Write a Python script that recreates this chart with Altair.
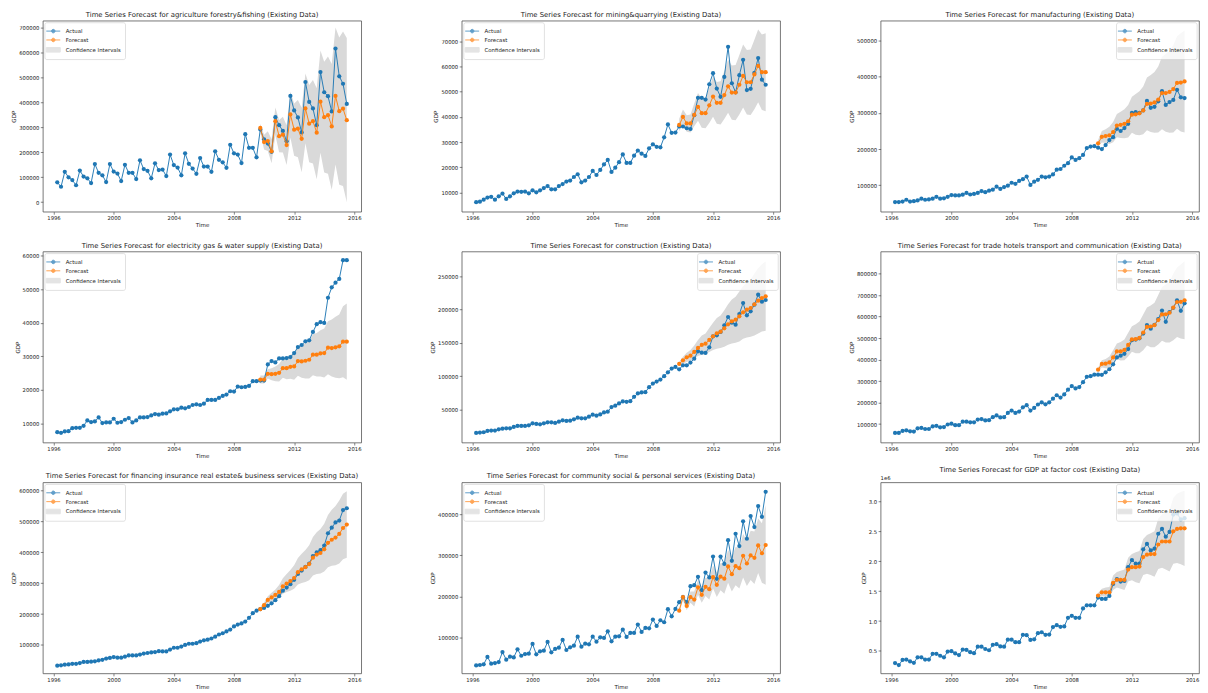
import altair as alt
import pandas as pd

# ---------------- data (values in thousands) ----------------
FIRST_QUARTER = 1996.25           # decimal year of the first observation (quarterly)
X_DOMAIN = [1995.29, 2016.46]
X_TICKS = [1996, 2000, 2004, 2008, 2012, 2016]

TITLES = [
    "Time Series Forecast for agriculture forestry&fishing (Existing Data)",
    "Time Series Forecast for mining&quarrying (Existing Data)",
    "Time Series Forecast for manufacturing (Existing Data)",
    "Time Series Forecast for electricity gas & water supply (Existing Data)",
    "Time Series Forecast for construction (Existing Data)",
    "Time Series Forecast for trade hotels transport and communication (Existing Data)",
    "Time Series Forecast for financing insurance real estate& business services (Existing Data)",
    "Time Series Forecast for community social & personal services (Existing Data)",
    "Time Series Forecast for GDP at factor cost (Existing Data)",
]

ACT_AGRI = [80, 62, 122,
            100, 89, 68, 127, 103, 96, 77, 153, 118, 108, 81, 153, 123, 115, 85, 150,
            118, 118, 93, 168, 133, 126, 96, 156, 129, 131, 105, 191, 149, 139, 108, 196,
            154, 135, 114, 177, 143, 143, 122, 204, 170, 160, 138, 230, 196, 191, 157, 273,
            218, 218, 180, 292, 252, 235, 202, 341, 309, 286, 244, 426, 368, 340, 280, 482,
            402, 376, 309, 522, 441, 425, 364, 616, 505, 475, 394]
FC_AGRI = [298, 241, 245, 204, 325, 265, 271, 229, 352, 291, 295, 254, 376, 315, 325, 279,
           403, 341, 349, 304, 426, 365, 375, 329]
UP_AGRI = [316, 271, 285, 252, 380, 330, 343, 309, 444, 396, 410, 379, 516, 470, 490, 457,
           608, 563, 584, 554, 701, 660, 685, 658]
LO_AGRI = [280, 211, 205, 156, 270, 200, 199, 149, 260, 186, 180, 120, 236, 160, 155, 92,
           198, 119, 114, 50, 151, 70, 65, 0]

ACT_MINE = [6.1, 6.3, 7.1, 7.9, 8.2, 7.1, 8.4, 9.5, 7.4, 8.4, 9.6, 10.3,
            10.2, 10.3, 9.6, 10.8, 10.0, 10.8, 11.7, 12.5, 11.2, 11.2, 12.5, 13.3,
            14.3, 14.7, 16.1, 17.2, 14.0, 14.7, 16.1, 18.5, 16.9, 18.9, 21.1, 22.9,
            18.1, 19.8, 22.0, 25.1, 21.7, 21.7, 24.6, 26.6, 25.4, 24.5, 27.5, 29.1,
            28.1, 27.9, 31.9, 37.0, 33.7, 33.8,
            36.2, 36.2, 35.5, 35.2, 40.7, 47.6, 47.6, 46.9, 53.0, 57.4, 51.3, 48.0,
            55.9, 67.9, 53.4, 49.8, 56.6, 62.7, 50.7, 51.2, 57.5, 63.4, 54.8, 52.8]
FC_MINE = [36.8, 40.0, 37.4, 37.4, 40.8, 44.0, 41.5, 41.5, 44.6, 48.1, 45.6, 45.6,
           48.7, 52.2, 49.7, 49.7, 52.8, 56.3, 53.8, 53.8, 56.9, 60.3, 57.8, 57.8]
UP_MINE = [39.3, 43.0, 40.7, 41.0, 45.3, 49.5, 47.3, 47.5, 51.6, 56.1, 53.9, 54.2,
           58.2, 62.7, 60.5, 60.7, 64.6, 68.8, 66.6, 66.8, 70.7, 74.8, 72.8, 73.3]
LO_MINE = [34.3, 37.0, 34.1, 33.8, 36.3, 38.5, 35.7, 35.5, 37.6, 40.1, 37.3, 37.0,
           39.2, 41.7, 38.9, 38.7, 41.0, 43.8, 41.0, 40.8, 43.1, 45.8, 42.8, 42.3]

ACT_MANU = [53.5, 53.5, 55, 60, 55, 56, 58, 63, 60, 61, 63, 68,
            63, 64, 68, 73, 72, 72, 74, 79, 74.5, 76, 79, 84, 81, 85, 88, 96,
            90, 95, 99, 107, 104, 112, 117, 124, 101, 110, 115, 124, 122, 124, 130, 143,
            145, 154, 161, 177, 170, 175, 184, 203, 207, 208,
            204, 200, 211, 225, 233, 256, 250, 258, 270, 300, 302, 300,
            307, 333, 314, 317, 332, 360, 322, 330, 336, 364, 343, 341]
FC_MANU = [216, 234, 236, 238, 247, 265, 267, 270, 277, 295, 296, 299,
           307, 325, 326, 329, 337, 355, 355, 358, 366, 383, 384, 387]
UP_MANU = [225, 250, 255, 262, 275, 297, 303, 310, 322, 345, 352, 360,
           373, 398, 405, 413, 428, 455, 463, 472, 487, 512, 520, 528]
LO_MANU = [207, 218, 217, 214, 219, 233, 231, 230, 232, 245, 240, 238,
           241, 252, 247, 245, 246, 255, 248, 245, 246, 256, 249, 246]

ACT_ELEC = [7.4, 7.2, 7.6, 7.7, 8.6, 8.7, 8.7, 9.3, 10.9, 10.4, 10.6, 11.8,
            10.1, 10.3, 10.3, 11.4, 10.2, 10.4, 11.1, 11.6, 10.3, 10.9, 11.8, 11.8,
            11.9, 12.4, 12.8, 12.6, 12.9, 13.0, 13.6, 14.2, 14.2, 14.7, 14.5, 14.9,
            15.5, 15.7, 15.5, 15.9, 17.0, 17.0, 17.0, 17.6, 18.2, 18.6, 19.6, 19.5,
            21.0, 20.8, 20.9, 21.2, 22.6, 22.6,
            22.8, 22.8, 27.6, 28.6, 28.2, 29.4, 29.4, 29.5, 29.8, 31.0, 32.8, 33.4,
            34.5, 34.8, 37.3, 39.6, 40.2, 40.0, 47.5, 50.6, 52.0, 53.1, 58.7, 58.7]
FC_ELEC = [23.1, 23.1, 24.8, 24.7, 24.8, 25.1, 26.5, 26.5, 26.9, 27.0, 28.6, 28.5,
           28.7, 29.0, 30.5, 30.5, 30.9, 31.0, 32.6, 32.5, 32.7, 33.0, 34.4, 34.4]
UP_ELEC = [24.3, 24.3, 26.2, 26.5, 27.0, 27.7, 29.4, 29.8, 30.5, 31.0, 33.0, 33.4,
           34.0, 34.6, 36.6, 37.0, 37.8, 38.3, 40.5, 41.0, 41.8, 42.5, 45.0, 45.8]
LO_ELEC = [21.9, 21.9, 23.4, 22.9, 22.6, 22.5, 23.6, 23.2, 23.3, 23.0, 24.2, 23.6,
           23.4, 23.4, 24.4, 24.0, 24.0, 23.7, 24.7, 24.0, 23.6, 23.5, 23.8, 23.0]

ACT_CONS = [14.7, 15.2, 15.7, 17.7, 18.2, 18.2, 20.1, 21.1, 21.6, 21.6, 23.6, 25.1,
            25.1, 25.1, 26.1, 29.1, 28.1, 27.6, 29.1, 30.6, 30.6, 29.6, 31.6, 33.6,
            32.6, 33.1, 35.1, 37.6, 36.6, 36.6, 39.1, 42.0, 40.5, 42.5, 45.5, 46.5,
            53.5, 55.5, 59.0, 62.0, 61.4, 62.4, 68.9, 73.9, 75.4, 75.9, 83.3, 88.8,
            91.8, 94.8, 99.8, 105.7, 111.2, 113.7,
            110.2, 116.2, 116.2, 120.2, 126.2, 137.2, 135.2, 134.7, 143.2, 159.7, 161.2, 166.2,
            176.2, 188.7, 180.2, 177.2, 193.2, 209.7, 191.2, 197.2, 207.2, 222.2, 211.7, 214.2]
FC_CONS = [118.2, 123.7, 128.2, 130.7, 136.2, 142.2, 146.7, 148.7, 154.2, 159.7, 164.2, 166.7,
           171.7, 177.7, 182.2, 184.7, 189.7, 195.7, 199.7, 202.2, 207.7, 213.2, 217.2, 219.7]
UP_CONS = [121, 129, 135, 139, 146, 154, 161, 164, 172, 180, 187, 191,
           199, 208, 215, 219, 227, 235, 241, 245, 254, 262, 268, 272]
LO_CONS = [115, 118, 121, 123, 126, 130, 132, 133, 136, 139, 141, 142,
           144, 147, 149, 150, 152, 156, 158, 159, 161, 164, 167, 168]

ACT_TRAD = [58.5, 58.5, 68, 71, 66, 65, 80, 82, 77, 77, 89, 92,
            85, 86, 98, 102, 95, 95, 111, 111, 108, 108, 121, 123,
            117, 118, 132, 140, 131, 132, 152, 163, 152, 158, 178, 188,
            163, 175, 191, 201, 192, 201, 218, 234, 223, 238, 260, 277,
            266, 272, 295, 320, 323, 330,
            330, 329, 341, 355, 378, 410, 418, 427, 449, 490, 493, 499,
            521, 561, 544, 562, 588, 628, 576, 621, 641, 676, 627, 662]
FC_TRAD = [353, 380, 381, 387, 410, 438, 438, 445, 468, 494, 495, 501,
           526, 552, 554, 560, 584, 610, 611, 618, 642, 668, 669, 676]
UP_TRAD = [362, 397, 403, 414, 444, 475, 482, 494, 525, 555, 565, 577,
           610, 642, 652, 665, 700, 738, 750, 762, 800, 828, 842, 858]
LO_TRAD = [344, 363, 360, 360, 378, 402, 396, 397, 414, 436, 430, 430,
           444, 465, 458, 457, 470, 488, 480, 479, 490, 505, 498, 495]

ACT_FIN = [33, 34, 36, 37, 39, 39, 41.5, 45, 45, 46, 47, 50,
           52, 56, 58, 61, 59, 59, 62, 66, 66, 66, 69, 72,
           74, 76, 77, 80, 79, 79, 85, 91, 91, 95, 100, 104,
           104, 106, 111, 115, 117, 121, 127, 134, 138, 144, 150, 160,
           166, 170, 176, 188, 203, 211,
           216, 220, 227, 235, 245, 258, 276, 286, 297, 311, 330, 341,
           353, 364, 388, 400, 407, 422, 462, 480, 497, 503, 537, 543]
FC_FIN = [216, 229, 246, 254, 262, 272, 290, 299, 307, 317, 336, 345,
          352, 362, 383, 393, 398, 410, 431, 441, 448, 460, 479, 490]
UP_FIN = [222, 238, 258, 269, 280, 294, 316, 330, 343, 358, 382, 396,
          408, 423, 450, 465, 476, 493, 521, 538, 550, 568, 590, 598]
LO_FIN = [210, 220, 234, 240, 246, 252, 266, 272, 276, 282, 296, 301,
          304, 310, 325, 330, 332, 338, 352, 357, 358, 364, 378, 383]

ACT_COMM = [31.5, 32.4, 34, 52, 35.6, 37.2, 39.7, 64, 45.4, 52.7, 51, 70.7,
            55, 59, 60, 83.7, 58.4, 65.8, 67.4, 88.6, 63.3, 71.5, 74.7, 93.5,
            69, 75.5, 79.6, 101.6, 77.2, 84.5, 82.9, 101.6, 89.4, 100, 98.4, 114.7,
            90.2, 101.6, 102.4, 118.7, 100.8, 110.6, 110.6, 131, 113, 122.8, 122, 143.2,
            127.7, 141.6, 136.7, 168.5, 151.3, 169.3,
            185.6, 197.8, 185.6, 224.7, 227, 247.5, 215, 258, 246, 297, 242.6, 297,
            279, 337, 286.6, 352.6, 322.5, 382.8, 340.4, 395.8, 369, 420, 394, 455]
FC_COMM = [165, 198, 176.6, 197.8, 192, 222, 203.5, 223, 217.4, 246.7, 228, 248,
           243, 272.8, 254, 273.6, 268.7, 298.9, 280, 299.7, 294, 324, 305, 325]
UP_COMM = [171, 206, 187, 212, 212, 240, 223, 246, 243, 275, 258, 281,
           280, 313, 297, 320, 318, 352, 336, 360, 358, 390, 378, 423]
LO_COMM = [159, 190, 166, 184, 175, 204, 184, 201, 192, 219, 198, 215,
           206, 233, 212, 227, 219, 246, 225, 240, 230, 257, 233, 228]

ACT_GDP = [296, 263, 349, 355, 323, 301, 392, 392, 355, 355, 452, 452,
           419, 392, 489, 495, 457, 430, 522, 516, 478, 462, 570, 570,
           532, 511, 602, 613, 575, 570, 688, 688, 645, 645, 769, 763,
           683, 694, 796, 812, 769, 774, 898, 930, 903, 909, 1054, 1086,
           1054, 1054, 1210, 1263, 1263, 1263,
           1392, 1370, 1370, 1420, 1620, 1700, 1660, 1670, 1900, 2020, 1960, 1960,
           2200, 2290, 2180, 2210, 2460, 2540, 2410, 2490, 2780, 2800, 2700, 2720]
FC_GDP = [1425, 1480, 1480, 1480, 1640, 1690, 1690, 1690, 1860, 1900, 1900, 1910,
          2070, 2110, 2120, 2120, 2280, 2330, 2330, 2330, 2500, 2540, 2550, 2550]
UP_GDP = [1470, 1540, 1560, 1570, 1760, 1820, 1840, 1860, 2060, 2120, 2150, 2170,
          2370, 2440, 2470, 2500, 2710, 2780, 2820, 2850, 3060, 3130, 3160, 3180]
LO_GDP = [1380, 1420, 1400, 1390, 1520, 1560, 1540, 1520, 1660, 1680, 1650, 1630,
          1770, 1790, 1770, 1740, 1870, 1890, 1860, 1830, 1960, 1970, 1950, 1920]

# y-axis domains / ticks (raw GDP units)
Y_DOMAINS = [[-38000, 728000], [2300, 78300], [27000, 555000],
             [4300, 61300], [250, 287000], [14000, 903000],
             [8000, 627000], [12000, 478000], [124000, 3320000]]
Y_TICKS = [list(range(0, 700001, 100000)), list(range(10000, 70001, 10000)),
           list(range(100000, 500001, 100000)),
           list(range(10000, 60001, 10000)), list(range(50000, 250001, 50000)),
           list(range(100000, 800001, 100000)),
           list(range(100000, 600001, 100000)), list(range(100000, 400001, 100000)),
           [500000, 1000000, 1500000, 2000000, 2500000, 3000000]]
LEGEND_ORIENT = ["top-left", "top-left", "top-right",
                 "top-left", "top-right", "top-right",
                 "top-left", "top-left", "top-right"]

SERIES = [(ACT_AGRI, FC_AGRI, LO_AGRI, UP_AGRI), (ACT_MINE, FC_MINE, LO_MINE, UP_MINE),
          (ACT_MANU, FC_MANU, LO_MANU, UP_MANU), (ACT_ELEC, FC_ELEC, LO_ELEC, UP_ELEC),
          (ACT_CONS, FC_CONS, LO_CONS, UP_CONS), (ACT_TRAD, FC_TRAD, LO_TRAD, UP_TRAD),
          (ACT_FIN, FC_FIN, LO_FIN, UP_FIN), (ACT_COMM, FC_COMM, LO_COMM, UP_COMM),
          (ACT_GDP, FC_GDP, LO_GDP, UP_GDP)]

LEGEND_ITEMS = ["Actual", "Forecast", "Confidence Intervals"]

# ---------------- styling ----------------
FONT = "DejaVu Sans"
BLUE, ORANGE, CI_GRAY = "#1f77b4", "#ff7f0e", "#d9d9d9"
LINE_SYM = "M-2,0L2,0M-0.5,0A0.5,0.5,0,1,1,0.5,0A0.5,0.5,0,1,1,-0.5,0Z"
RECT_SYM = "M-2,-0.65L2,-0.65L2,0.65L-2,0.65Z"
W, H = 320, 192


def panel(i):
    actual, forecast, lower, upper = SERIES[i]
    n = len(actual)
    t_all = [FIRST_QUARTER + 0.25 * k for k in range(n)]
    t_fc = t_all[n - len(forecast):]
    act = pd.DataFrame({"t": t_all, "v": [a * 1000 for a in actual], "series": "Actual"})
    fc = pd.DataFrame({"t": t_fc, "v": [f * 1000 for f in forecast], "series": "Forecast"})
    ci = pd.DataFrame({"t": t_fc, "lo": [v * 1000 for v in lower], "hi": [v * 1000 for v in upper]})

    x = alt.X("t:Q", scale=alt.Scale(domain=X_DOMAIN, nice=False, zero=False),
              axis=alt.Axis(values=X_TICKS, format="d", title="Time"))
    if i == 8:
        yaxis = alt.Axis(values=Y_TICKS[i], title="GDP",
                         labelExpr="format(datum.value / 1000000, '.1f')")
    else:
        yaxis = alt.Axis(values=Y_TICKS[i], title="GDP", format="d")
    yscale = alt.Scale(domain=Y_DOMAINS[i], nice=False, zero=False)
    color = alt.Color("series:N", scale=alt.Scale(domain=["Actual", "Forecast"], range=[BLUE, ORANGE]),
                      legend=None)

    area = alt.Chart(ci).mark_area(color=CI_GRAY, clip=True).encode(
        x=x, y=alt.Y("lo:Q", scale=yscale, axis=yaxis), y2="hi:Q")
    layers = [area]
    for df in (act, fc):
        base = alt.Chart(df).encode(x=x, y=alt.Y("v:Q", scale=yscale, axis=yaxis), color=color)
        layers.append(base.mark_line(strokeWidth=0.95, clip=True))
        layers.append(base.mark_circle(size=18, opacity=1, clip=True))

    leg = alt.Legend(orient=LEGEND_ORIENT[i], title=None)
    legend_layer = alt.Chart(pd.DataFrame({"series": LEGEND_ITEMS})).mark_point(filled=True).encode(
        fill=alt.Fill("series:N", scale=alt.Scale(domain=LEGEND_ITEMS, range=[BLUE, ORANGE, CI_GRAY]), legend=leg),
        stroke=alt.Stroke("series:N", scale=alt.Scale(domain=LEGEND_ITEMS, range=[BLUE, ORANGE, CI_GRAY]), legend=leg),
        shape=alt.Shape("series:N", scale=alt.Scale(domain=LEGEND_ITEMS, range=[LINE_SYM, LINE_SYM, RECT_SYM]), legend=leg),
    ).transform_filter("false")
    layers.append(legend_layer)

    if i == 8:
        layers.append(alt.Chart(pd.DataFrame({"lab": ["1e6"]})).mark_text(
            align="left", baseline="bottom", fontSize=5.3, font=FONT, color="#222").encode(
            text="lab:N", x=alt.value(0), y=alt.value(-1.5)))

    return alt.layer(*layers).properties(width=W, height=H, title=TITLES[i])


RES = dict(fill="independent", stroke="independent", shape="independent")
chart = alt.concat(*[panel(i) for i in range(9)], columns=3,
                   spacing={"row": 40, "column": 101}, bounds="flush").resolve_scale(**RES).properties(
    padding={"left": 3, "top": 0, "right": 0, "bottom": 0}
).configure(font=FONT).configure_view(
    stroke="#555", strokeWidth=0.8
).configure_axis(
    domain=False, grid=False, labelFontSize=5.3, titleFontSize=5.6, tickSize=2.5,
    tickColor="#333", tickWidth=0.6, labelColor="#222", titleColor="#222",
    labelPadding=1.5, titlePadding=2, titleFontWeight="normal", labelFont=FONT, titleFont=FONT
).configure_title(
    fontSize=6.9, font=FONT, fontWeight="normal", color="#222", offset=2, anchor="middle"
).configure_legend(
    labelFontSize=5.4, labelFont=FONT, labelColor="#222", symbolSize=49, symbolStrokeWidth=1,
    symbolFillColor="white", padding=4.5, rowPadding=0.9, offset=2, labelOffset=8.5,
    strokeColor="#cccccc", strokeWidth=0.6, fillColor="rgba(255,255,255,0.8)", cornerRadius=2
)

chart.save("out.html", embed_options={"renderer": "svg", "actions": False})
